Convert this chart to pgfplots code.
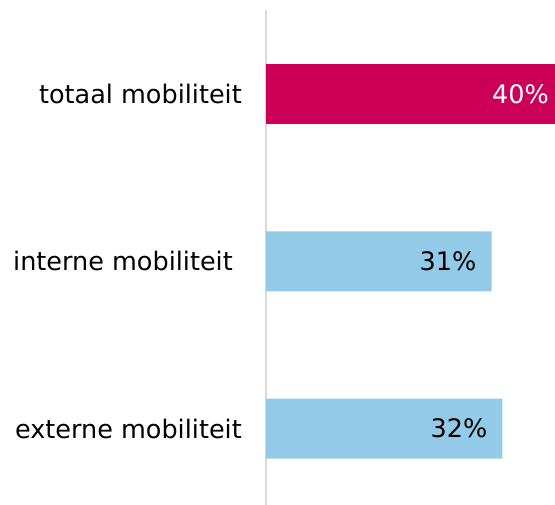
\documentclass[border=0pt]{standalone}
\usepackage{pgfplots}
\pgfplotsset{compat=1.18}
\usepackage{fontspec}
\setmainfont{DejaVu Sans}
\definecolor{mag}{HTML}{CC0058}
\definecolor{lblue}{HTML}{93CAE7}
\definecolor{axgray}{HTML}{D9D9D9}
\begin{document}
\begin{tikzpicture}
\useasboundingbox (-266bp,0) rectangle (289bp,505bp);
\begin{axis}[
  at={(0,0)}, anchor=south west,
  scale only axis, width=289bp, height=495bp,
  xmin=0, xmax=39.6, ymin=-0.457, ymax=2.502,
  clip=false,
  xbar, bar width=60bp, bar shift=0pt,
  axis x line=none, axis y line*=left,
  y axis line style={draw=axgray, line width=1.2bp, -},
  ytick={0,1,2},
  yticklabels={externe mobiliteit, interne mobiliteit\kern9bp, totaal mobiliteit},
  major tick length=0pt,
  yticklabel style={inner sep=0pt, anchor=east, xshift=-24bp, font=\fontsize{25.6}{30}\selectfont},
  point meta=explicit symbolic,
  nodes near coords,
  every node near coord/.append style={anchor=east, inner sep=0pt, font=\fontsize{25.6}{30}\selectfont},
]
\addplot[fill=mag, draw=none, every node near coord/.append style={text=white, xshift=-6bp}] coordinates {(39.6,2) [40\%]};
\addplot[fill=lblue, draw=none, every node near coord/.append style={text=black, xshift=-15bp}] coordinates {(30.9,1) [31\%] (32.4,0) [32\%]};
\end{axis}
\end{tikzpicture}
\end{document}
